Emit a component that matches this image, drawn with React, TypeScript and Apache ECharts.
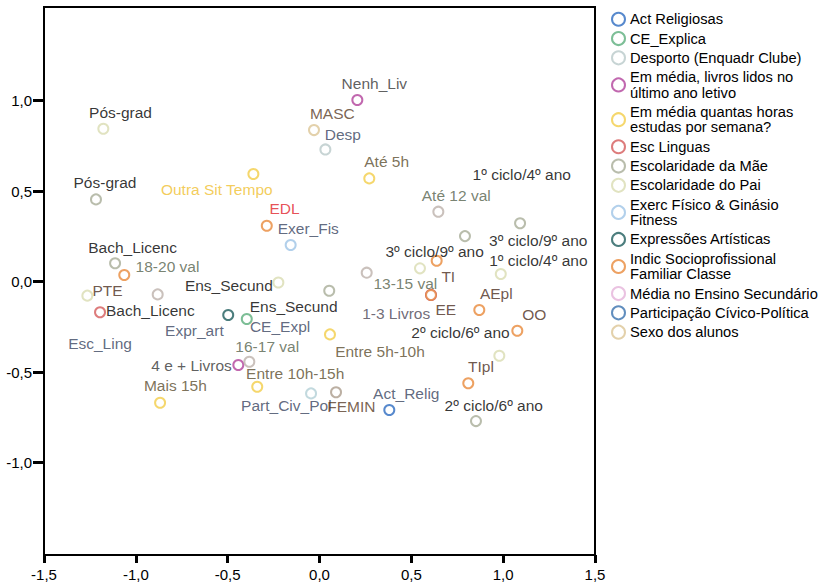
import { useEffect, useRef } from 'react';
import * as echarts from 'echarts';

// ---- Legend / series names ----
const seriesNames = [
  'Act Religiosas',
  'CE_Explica',
  'Desporto (Enquadr Clube)',
  'Em média, livros lidos no último ano letivo',
  'Em média quantas horas estudas por semana?',
  'Esc Linguas',
  'Escolaridade da Mãe',
  'Escolaridade do Pai',
  'Exerc Físico & Ginásio Fitness',
  'Expressões Artísticas',
  'Indic Socioprofissional Familiar Classe',
  'Média no Ensino Secundário',
  'Participação Cívico-Política',
  'Sexo dos alunos',
];

// ---- Data values (dimension 1, dimension 2) ----
const actX = [0.380]; const actY = [-0.709]; const actCats = ['Act_Relig'];
const ceX = [-0.396]; const ceY = [-0.206]; const ceCats = ['CE_Expl'];
const despX = [0.032]; const despY = [0.731]; const despCats = ['Desp'];
const livX = [0.206, -0.442, 0.607]; const livY = [1.004, -0.460, -0.073];
const livCats = ['Nenh_Liv', '4 e + Livros', '1-3 Livros'];
const horX = [-0.360, 0.271, 0.057, -0.339, -0.868];
const horY = [0.595, 0.571, -0.291, -0.580, -0.669];
const horCats = ['Outra Sit Tempo', 'Até 5h', 'Entre 5h-10h', 'Entre 10h-15h', 'Mais 15h'];
const escX = [-1.195]; const escY = [-0.169]; const escCats = ['Esc_Ling'];
const maeX = [-1.217, -1.113, 0.053, 0.792, 1.092, 0.852];
const maeY = [0.455, 0.102, -0.050, 0.252, 0.323, -0.770];
const maeCats = ['Pós-grad', 'Bach_Licenc', 'Ens_Secund', '3º ciclo/9º ano', '1º ciclo/4º ano', '2º ciclo/6º ano'];
const paiX = [-1.177, -1.264, -0.224, 0.547, 0.987, 0.979];
const paiY = [0.845, -0.077, -0.004, 0.074, 0.043, -0.409];
const paiCats = ['Pós-grad', 'Bach_Licenc', 'Ens_Secund', '3º ciclo/9º ano', '1º ciclo/4º ano', '2º ciclo/6º ano'];
const exX = [-0.157]; const exY = [0.203]; const exCats = ['Exer_Fis'];
const exprX = [-0.497]; const exprY = [-0.184]; const exprCats = ['Expr_art'];
const indX = [-0.287, 0.638, 0.607, 0.870, 1.077, 0.810, -1.063];
const indY = [0.309, 0.116, -0.073, -0.156, -0.271, -0.561, 0.037];
const indCats = ['EDL', 'TI', 'EE', 'AEpl', 'OO', 'TIpl', 'PTE'];
const medX = [0.647, 0.257, -0.382, -0.881]; const medY = [0.387, 0.050, -0.442, -0.070];
const medCats = ['Até 12 val', '13-15 val', '16-17 val', '18-20 val'];
const partX = [-0.046]; const partY = [-0.617]; const partCats = ['Part_Civ_Pol'];
const sexX = [-0.030, 0.090]; const sexY = [0.838, -0.611]; const sexCats = ['MASC', 'FEMIN'];

// axis tick values
const xTicks = [-1.5, -1.0, -0.5, 0, 0.5, 1.0, 1.5];
const yTicks = [-1.0, -0.5, 0, 0.5, 1.0];

// ---- Styles (colours, label placements) ----
const seriesColors = [
  '#2d6cc0', '#5bae7c', '#b9c9c9', '#b1429b', '#f3cd48', '#d45b5b', '#a7ad97',
  '#dadcb2', '#9fc4e6', '#1e5c5c', '#e8893b', '#e5b3d9', '#3a72ae', '#dcc596',
];
// per-point marker colour as drawn (null = series colour)
const markerColors: (string | null)[][] = [
  [null], [null], [null], [null, null, null], [null, null, null, null, null], [null],
  [null, null, null, null, null, null], [null, null, null, null, null, null], [null], [null],
  [null, null, null, null, null, null, null],
  ['#bdb2ab', '#bdb2ab', '#bdb2ab', '#bdb2ab'],
  ['#b3cfd6'],
  [null, '#ab9c8c'],
];
const SLATE = '#38445e';
const BLACK = '#000000';
const BROWN = '#4a2c20';
const OLIVE = '#5a4d2e';
const GGREEN = '#55624c';
const DGRAY = '#363636';

const offsets: number[][][] = [
  [[17, -16.7]],
  [[33.3, 7.7]],
  [[17.4, -15.3]],
  [[17, -16.7], [-46.8, 1], [-34.8, 18.3]],
  [[-36.6, 15.3], [17.4, -16.6], [50, 17.4], [38, -12.7], [15.3, -17]],
  [[0, 31]],
  [[9, -16.6], [17.5, -16], [-35.6, 15.3], [73.3, 4], [1.7, -48.3], [17.8, -16]],
  [[17.2, -16.4], [63, 15], [-49.5, 3.5], [14.7, -16.6], [37.6, -13.3], [-38.8, -23]],
  [[17.6, -16.7]],
  [[-33.8, 15]],
  [[17.8, -17], [11.6, 16], [14.8, 15], [17, -16.7], [16.9, -16], [12.7, -16.6], [-16.8, 15.7]],
  [[17.9, -16.4], [38.6, 11.3], [17.9, -15], [9.8, -27.6]],
  [[-24.7, 12.4]],
  [[18.3, -16.7], [15.3, 14.4]],
];
const labelColors: string[][] = [
  [SLATE],
  [SLATE],
  [SLATE],
  [DGRAY, DGRAY, '#4b4654'],
  ['#f0c030', OLIVE, OLIVE, OLIVE, OLIVE],
  [SLATE],
  [BLACK, BLACK, BLACK, BLACK, BLACK, BLACK],
  [BLACK, BLACK, BLACK, BLACK, BLACK, BLACK],
  [SLATE],
  [SLATE],
  ['#e0242a', BROWN, BROWN, BROWN, BROWN, BROWN, BROWN],
  [GGREEN, GGREEN, GGREEN, GGREEN],
  [SLATE],
  ['#573a26', '#573a26'],
];

const legendText: Record<string, string> = {
  'Em média, livros lidos no último ano letivo': 'Em média, livros lidos no\núltimo ano letivo',
  'Em média quantas horas estudas por semana?': 'Em média quantas horas\nestudas por semana?',
  'Exerc Físico & Ginásio Fitness': 'Exerc Físico & Ginásio\nFitness',
  'Indic Socioprofissional Familiar Classe': 'Indic Socioprofissional\nFamiliar Classe',
};

const FONT = "'Liberation Sans', Arial, sans-serif";
const fmt = (v: number) => v.toFixed(1).replace('.', ',');

export default function App() {
  const ref = useRef<HTMLDivElement>(null);
  useEffect(() => {
    if (!ref.current) return;
    const chart = echarts.init(ref.current, undefined, { renderer: 'svg' });
    const xs = [actX, ceX, despX, livX, horX, escX, maeX, paiX, exX, exprX, indX, medX, partX, sexX];
    const ys = [actY, ceY, despY, livY, horY, escY, maeY, paiY, exY, exprY, indY, medY, partY, sexY];
    const cats = [actCats, ceCats, despCats, livCats, horCats, escCats, maeCats, paiCats, exCats, exprCats, indCats, medCats, partCats, sexCats];

    const series = seriesNames.map((name, si) => ({
      type: 'scatter',
      name,
      symbol: 'emptyCircle',
      symbolSize: 10,
      itemStyle: { color: seriesColors[si] },
      emphasis: { disabled: true },
      label: {
        show: true,
        position: 'inside',
        formatter: '{b}',
        fontSize: 15.5,
        fontFamily: FONT,
        align: 'center',
        verticalAlign: 'middle',
      },
      data: xs[si].map((x, i) => {
        const mc = markerColors[si][i];
        return {
          name: cats[si][i],
          value: [x, ys[si][i]],
          ...(mc ? { itemStyle: { color: mc } } : {}),
          label: { offset: offsets[si][i], color: labelColors[si][i] },
        };
      }),
    }));

    chart.setOption({
      animation: false,
      grid: {
        left: 44, right: 233, top: 7, bottom: 28,
        show: true, borderColor: '#000', borderWidth: 2, backgroundColor: 'transparent',
      },
      legend: {
        orient: 'vertical',
        left: 611,
        top: 11.5,
        padding: 0,
        itemWidth: 13,
        itemHeight: 13,
        itemGap: 3.8,
        selectedMode: false,
        textStyle: { fontSize: 14.7, color: '#000', lineHeight: 15.5, fontFamily: FONT },
        formatter: (n: string) => legendText[n] || n,
        data: seriesNames.map((n) => ({ name: n, icon: 'emptyCircle' })),
      },
      xAxis: {
        type: 'value',
        min: -1.5,
        max: 1.5,
        interval: 0.5,
        axisLine: { onZero: false, lineStyle: { color: '#000', width: 2 } },
        axisTick: { show: true, length: 8, lineStyle: { color: '#000', width: 3 }, customValues: xTicks },
        axisLabel: { fontSize: 15, color: '#000', margin: 12, fontFamily: FONT, formatter: fmt, customValues: xTicks },
        splitLine: { show: false },
      },
      yAxis: {
        type: 'value',
        min: -1.51,
        max: 1.518,
        axisLine: { show: true, onZero: false, lineStyle: { color: '#000', width: 2 } },
        axisTick: { show: true, length: 11, lineStyle: { color: '#000', width: 3 }, customValues: yTicks },
        axisLabel: { fontSize: 15, color: '#000', margin: 12, fontFamily: FONT, formatter: fmt, customValues: yTicks },
        splitLine: { show: false },
      },
      series,
    });
    return () => chart.dispose();
  }, []);
  return <div ref={ref} style={{ position: 'fixed', left: 0, top: 0, width: 828, height: 583, background: '#fff' }} />;
}
